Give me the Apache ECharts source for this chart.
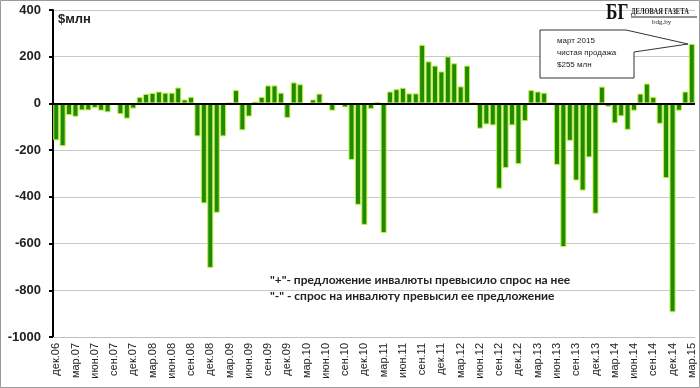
<!DOCTYPE html>
<html><head><meta charset="utf-8">
<script src="https://cdn.jsdelivr.net/npm/echarts@6/dist/echarts.min.js"></script>
<style>html,body{margin:0;padding:0;background:#fff}#c{width:700px;height:388px}</style>
</head><body><div id="c"></div>
<script>
const categories = [
 'дек.06',
 'янв.07','фев.07','мар.07','апр.07','май.07','июн.07','июл.07','авг.07','сен.07','окт.07','ноя.07','дек.07',
 'янв.08','фев.08','мар.08','апр.08','май.08','июн.08','июл.08','авг.08','сен.08','окт.08','ноя.08','дек.08',
 'янв.09','фев.09','мар.09','апр.09','май.09','июн.09','июл.09','авг.09','сен.09','окт.09','ноя.09','дек.09',
 'янв.10','фев.10','мар.10','апр.10','май.10','июн.10','июл.10','авг.10','сен.10','окт.10','ноя.10','дек.10',
 'янв.11','фев.11','мар.11','апр.11','май.11','июн.11','июл.11','авг.11','сен.11','окт.11','ноя.11','дек.11',
 'янв.12','фев.12','мар.12','апр.12','май.12','июн.12','июл.12','авг.12','сен.12','окт.12','ноя.12','дек.12',
 'янв.13','фев.13','мар.13','апр.13','май.13','июн.13','июл.13','авг.13','сен.13','окт.13','ноя.13','дек.13',
 'янв.14','фев.14','мар.14','апр.14','май.14','июн.14','июл.14','авг.14','сен.14','окт.14','ноя.14','дек.14',
 'янв.15','фев.15','мар.15'
];
const netValues = [
 -158,
 -183,-50,-57,-30,-30,-19,-31,-38,-7,-46,-65,-22,
 27,41,45,51,46,46,68,17,28,-141,-428,-704,
 -468,-141,2,57,-115,-56,8,28,77,77,46,-62,
 90,82,-3,17,42,2,-31,-3,-17,-242,-434,-520,
 -24,6,-555,51,61,67,43,43,251,180,162,137,
 201,172,73,162,2,-108,-90,-94,-365,-277,-94,-260,
 -76,57,51,46,2,-263,-615,-160,-330,-373,-231,-472,
 72,-14,-85,-55,-113,-31,42,85,28,-87,-320,-894,
 -31,51,255
];
const yTicks = {min:-1000, max:400, step:200};
const unitLabel = '$млн';
const noteLines = ['"+"- предложение инвалюты превысило спрос на нее', '"-" - спрос на инвалюту превысил ее предложение'];
const calloutLines = ['март 2015', 'чистая продажа', '$255 млн'];

const chart = echarts.init(document.getElementById('c'), null, {renderer:'canvas'});
chart.setOption({
  animation:false,
  backgroundColor:'#fff',
  grid:{left:53, right:5, top:10, bottom:51},
  xAxis:{
    type:'category', data:categories,
    axisLine:{onZero:false, lineStyle:{color:'#c0c0c0', width:1}},
    axisTick:{show:false},
    axisLabel:{interval:2, rotate:90, margin:6, color:'#222', fontFamily:'Liberation Sans, Arial, sans-serif', fontSize:11}
  },
  yAxis:{
    type:'value', min:yTicks.min, max:yTicks.max, interval:yTicks.step,
    axisLine:{show:true, lineStyle:{color:'#000', width:2}},
    axisTick:{show:true, length:4, lineStyle:{color:'#000', width:2}},
    axisLabel:{color:'#222', fontWeight:'bold', fontSize:13, margin:12, fontFamily:'Liberation Sans, Arial, sans-serif',
      formatter:function(v){return String(v);}},
    splitLine:{lineStyle:{color:'#c8c8c8', width:1}}
  },
  series:[{
    type:'bar', data:netValues, barCategoryGap:'6%',
    itemStyle:{color:'#1f8a04', borderColor:'#c4ee48', borderWidth:1},
    markLine:{silent:true, symbol:'none', label:{show:false},
      lineStyle:{color:'#000', width:2, type:'solid'}, data:[{yAxis:0}]}
  }],
  graphic:[
    {type:'rect', shape:{x:0.5,y:0.5,width:699,height:387}, style:{fill:'none', stroke:'#9a9a9a', lineWidth:1}, z:100},
    {type:'text', left:58, top:13, style:{text:unitLabel, font:'bold 13px "Liberation Sans", Arial, sans-serif', fill:'#222'}},
    {type:'text', left:270, top:274, style:{text:noteLines[0], font:'bold 12px Lato, "Open Sans", sans-serif', fill:'#222'}},
    {type:'text', left:270, top:290, style:{text:noteLines[1], font:'bold 12px Lato, "Open Sans", sans-serif', fill:'#222'}},
    {type:'polygon', shape:{points:[[540,30],[626,30],[688,44],[634,52],[634,78],[540,78]]},
      style:{fill:'#fff', stroke:'#333', lineWidth:1}, z:50},
    {type:'text', left:557, top:35, z:51, style:{text:calloutLines.join('\n'), lineHeight:12, font:'8px "Liberation Sans", Arial, sans-serif', fill:'#222'}},
    {type:'text', x:606, y:1, scaleX:0.72, z:51, style:{text:'БГ', font:'bold 24px "Liberation Serif", "DejaVu Serif", serif', fill:'#111'}},
    {type:'text', x:631, y:7, scaleX:0.72, z:51, style:{text:'ДЕЛОВАЯ ГАЗЕТА', font:'bold 9px "Liberation Serif", serif', fill:'#222'}},
    {type:'line', shape:{x1:631,y1:17,x2:697,y2:17}, style:{stroke:'#222', lineWidth:1}, z:51},
    {type:'text', x:652, y:19, z:51, style:{text:'bdg.by', font:'7px "Liberation Serif", serif', fill:'#222'}}
  ]
});
</script></body></html>
